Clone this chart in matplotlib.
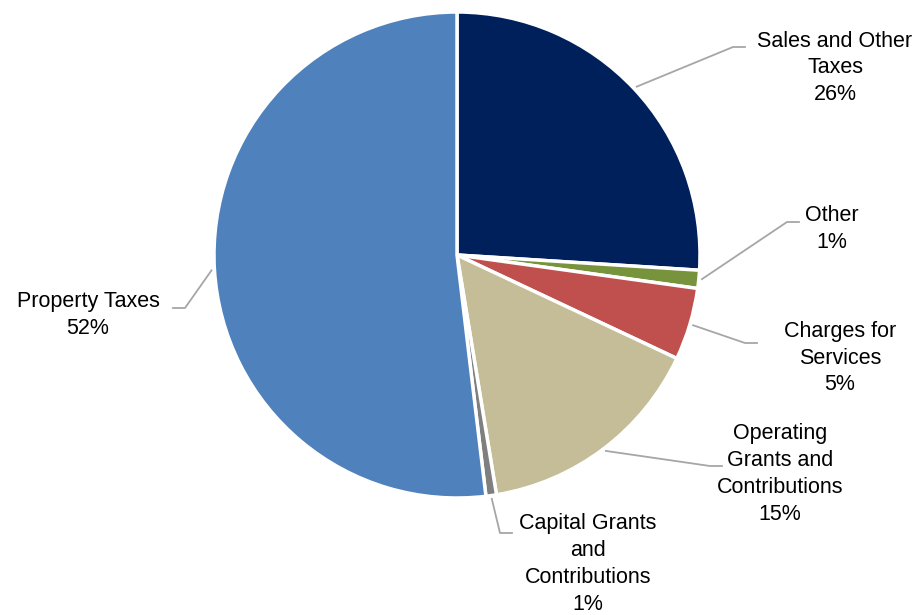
import matplotlib.pyplot as plt
import numpy as np

plt.rcParams["font.family"] = ["Liberation Sans", "DejaVu Sans"]

# === Data
categories = ["Sales and Other\nTaxes", "Other", "Charges for\nServices",
              "Operating\nGrants and\nContributions", "Capital Grants\nand\nContributions",
              "Property Taxes"]
values = [26.0, 1.2, 4.8, 15.4, 0.7, 51.9]
colors = ["#00205C", "#77933C", "#C0504D", "#C4BD97", "#7F7F7F", "#4F81BD"]

# === Layout (pixel positions of leader elbow and label centre)
W, H = 921, 615
CX, CY, R = 457, 255, 243
elbow_px = [(733, 47), (787, 222), (745, 343), (710, 466), (500, 533), (185, 308)]
label_px = [(835, 68), (832, 229), (840, 358), (780, 474), (588, 564), (88, 315)]


def to_data(p):
    return (p[0] - CX) / R, (CY - p[1]) / R


fig = plt.figure(figsize=(W / 100, H / 100), dpi=100)
ax = fig.add_axes([0, 0, 1, 1])
wedges, _ = ax.pie(values, colors=colors, startangle=90, counterclock=False,
                   radius=1, wedgeprops=dict(edgecolor="white", linewidth=2.5))
ax.set_xlim(-CX / R, (W - CX) / R)
ax.set_ylim(-(H - CY) / R, CY / R)
ax.set_aspect("equal")
ax.axis("off")

total = sum(values)
for w, name, v, e, l in zip(wedges, categories, values, elbow_px, label_px):
    ang = np.deg2rad((w.theta1 + w.theta2) / 2)
    sx, sy = 1.01 * np.cos(ang), 1.01 * np.sin(ang)
    ex, ey = to_data(e)
    lx, ly = to_data(l)
    hx = ex + (0.053 if lx > ex else -0.053)
    ax.plot([sx, ex, hx], [sy, ey, ey], color="#A6A6A6", lw=1.3, solid_capstyle="butt")
    pct = round(v / total * 100)
    ax.text(lx, ly, f"{name}\n{pct}%", ha="center", va="center", fontsize=15.5,
            linespacing=1.36, color="black")

fig.savefig("out.png", dpi=100)
